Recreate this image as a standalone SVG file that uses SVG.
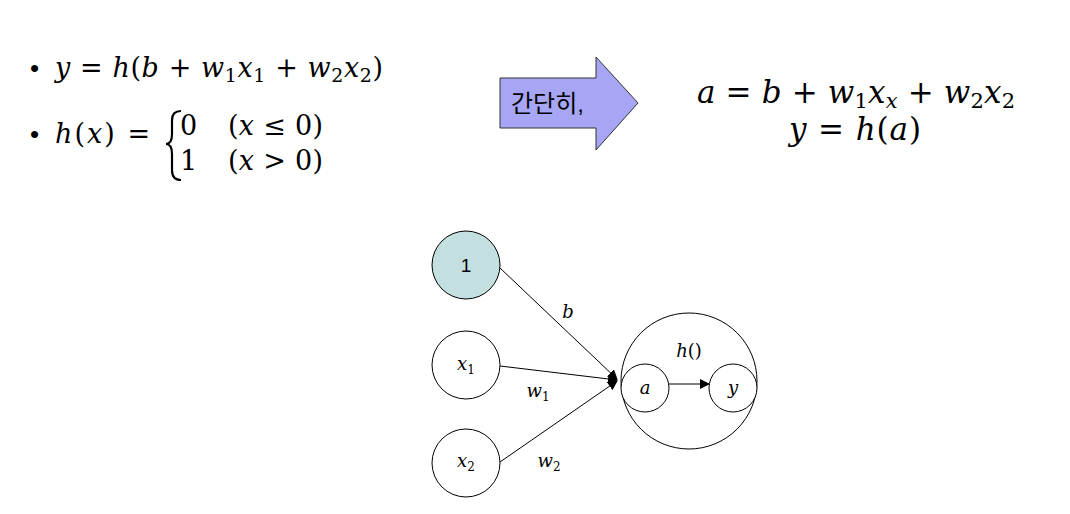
<svg xmlns="http://www.w3.org/2000/svg" width="1070" height="514" viewBox="0 0 1070 514">
<style>
.m{font-family:"DejaVu Serif","Liberation Serif",serif;font-style:italic;fill:#000}
.n{font-family:"DejaVu Serif","Liberation Serif",serif;font-style:normal}
.node{fill:#fff;stroke:#000;stroke-width:1}
.con{stroke:#000;stroke-width:1;fill:none}
</style>
<defs>
<marker id="ah" markerWidth="10" markerHeight="10" refX="9" refY="5" orient="auto" markerUnits="userSpaceOnUse">
<path d="M0,0 L10,5 L0,10 z" fill="#000"/>
</marker>
</defs>
<rect width="1070" height="514" fill="#fff"/>
<g id="formula-left">
<text x="30" y="77" font-family="Liberation Sans,sans-serif" font-size="26">•</text>
<text x="55" y="77" class="m" font-size="27" textLength="328" lengthAdjust="spacing">y <tspan class="n">= </tspan>h<tspan class="n">(</tspan>b <tspan class="n">+ </tspan> w<tspan class="n" font-size="19" dy="5">1</tspan><tspan dy="-5">x</tspan><tspan class="n" font-size="19" dy="5">1</tspan><tspan class="n" dy="-5"> + </tspan> w<tspan class="n" font-size="19" dy="5">2</tspan><tspan dy="-5">x</tspan><tspan class="n" font-size="19" dy="5">2</tspan><tspan class="n" dy="-5">)</tspan></text>
<text x="30" y="143" font-family="Liberation Sans,sans-serif" font-size="26">•</text>
<text x="55" y="143" class="m" font-size="27" textLength="95" lengthAdjust="spacing">h<tspan class="n">(</tspan>x<tspan class="n">) =</tspan></text>
<path d="M181,111 Q172,111 172,120 L172,134 Q172,144 166,144 Q172,144 172,154 L172,170 Q172,180 181,180" fill="none" stroke="#000" stroke-width="2.2"/>
<text x="180" y="135" class="n" font-size="27">0</text>
<text x="228" y="135" class="m" font-size="27" textLength="95" lengthAdjust="spacing"><tspan class="n">(</tspan>x <tspan class="n">≤ 0)</tspan></text>
<text x="180" y="170" class="n" font-size="27">1</text>
<text x="228" y="170" class="m" font-size="27" textLength="95" lengthAdjust="spacing"><tspan class="n">(</tspan>x <tspan class="n">&gt; 0)</tspan></text>
</g>
<g id="simplify-arrow">
<path d="M500,78 L596,78 L596,57 L638,103 L596,150 L596,128 L500,128 Z" fill="#a6a6f4" stroke="#333" stroke-width="1"/>
<text x="511" y="112" font-family="Liberation Sans,'Noto Sans CJK KR',sans-serif" font-size="24" fill="#000">간단히,</text>
</g>
<g id="formula-right">
<text x="697" y="103" class="m" font-size="31" textLength="318" lengthAdjust="spacing">a <tspan class="n">= </tspan>b <tspan class="n">+ </tspan>w<tspan class="n" font-size="21" dy="5">1</tspan><tspan dy="-5">x</tspan><tspan font-size="21" dy="5">x</tspan><tspan class="n" dy="-5"> + </tspan>w<tspan class="n" font-size="21" dy="5">2</tspan><tspan dy="-5">x</tspan><tspan class="n" font-size="21" dy="5">2</tspan></text>
<text x="789" y="140" class="m" font-size="31" textLength="132" lengthAdjust="spacing">y <tspan class="n">= </tspan>h<tspan class="n">(</tspan>a<tspan class="n">)</tspan></text>
</g>
<g id="connectors">
<line class="con" x1="500" y1="268" x2="617" y2="379" marker-end="url(#ah)"/>
<line class="con" x1="500" y1="366" x2="617" y2="380" marker-end="url(#ah)"/>
<line class="con" x1="500" y1="462" x2="617" y2="381" marker-end="url(#ah)"/>
<line class="con" x1="668" y1="384" x2="709" y2="384" marker-end="url(#ah)"/>
</g>
<g id="node-1">
<circle cx="466" cy="265" r="34" fill="#c3dfe0" stroke="#000"/>
<text x="466" y="272" text-anchor="middle" font-family="Liberation Sans,sans-serif" font-size="19">1</text>
</g>
<g id="node-x1">
<circle class="node" cx="466" cy="365" r="34"/>
<text x="466" y="370" text-anchor="middle" class="m" font-size="18">x<tspan class="n" font-size="12" dy="4">1</tspan></text>
</g>
<g id="node-x2">
<circle class="node" cx="466" cy="463" r="34"/>
<text x="466" y="467" text-anchor="middle" class="m" font-size="18">x<tspan class="n" font-size="12" dy="4">2</tspan></text>
</g>
<g id="node-h">
<circle cx="689" cy="381" r="68" fill="none" stroke="#000"/>
<text x="689" y="357" text-anchor="middle" class="m" font-size="18">h<tspan class="n">()</tspan></text>
</g>
<g id="node-a">
<circle class="node" cx="645" cy="388" r="24"/>
<text x="645" y="394" text-anchor="middle" class="m" font-size="18">a</text>
</g>
<g id="node-y">
<circle class="node" cx="733" cy="388" r="24"/>
<text x="733" y="394" text-anchor="middle" class="m" font-size="18">y</text>
</g>
<g id="labels">
<text x="568" y="318" text-anchor="middle" class="m" font-size="18">b</text>
<text x="538" y="397" text-anchor="middle" class="m" font-size="18">w<tspan class="n" font-size="12" dy="4">1</tspan></text>
<text x="549" y="467" text-anchor="middle" class="m" font-size="18">w<tspan class="n" font-size="12" dy="4">2</tspan></text>
</g>
</svg>
